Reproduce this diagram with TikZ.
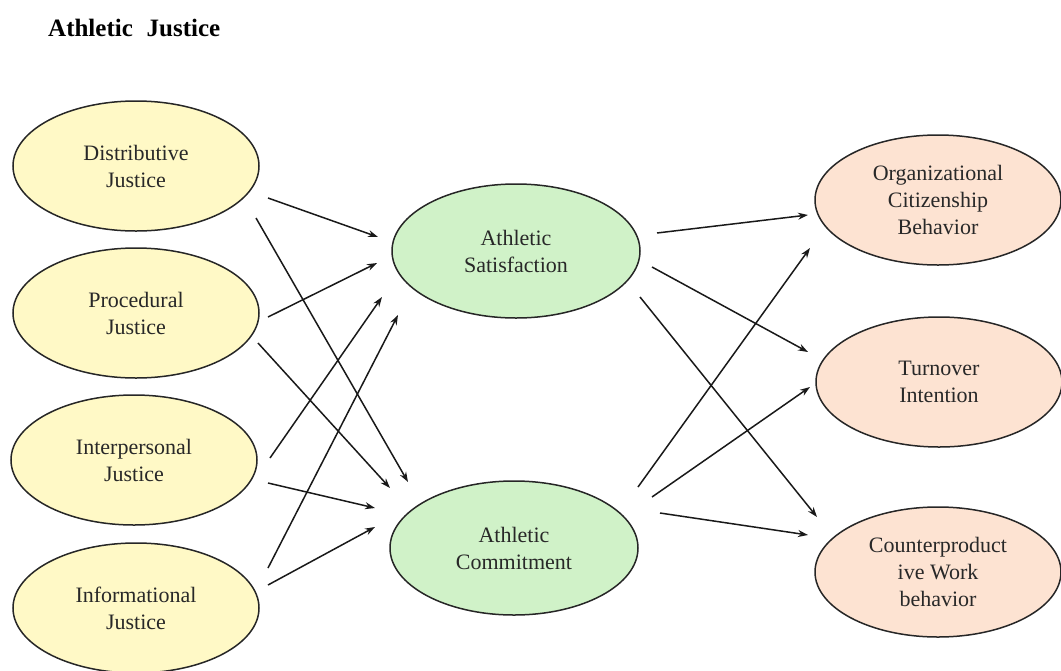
\documentclass[tikz,border=0pt]{standalone}
\usepackage{fontspec}
\setmainfont{Liberation Serif}
\usetikzlibrary{shapes.geometric,arrows.meta,calc}
\definecolor{yel}{RGB}{255,249,198}
\definecolor{grn}{RGB}{208,242,200}
\definecolor{pch}{RGB}{253,227,210}
\definecolor{txt}{RGB}{40,40,40}
\tikzset{
  oval/.style={ellipse,draw=black!85,line width=1.5pt,minimum width=246pt,minimum height=130pt,inner sep=0pt,align=center,text=txt,font=\fontsize{22}{27}\selectfont},
  yoval/.style={oval,fill=yel},
  goval/.style={oval,fill=grn,minimum width=248pt,minimum height=134pt},
  poval/.style={oval,fill=pch},
  arr/.style={-{Stealth[length=10pt,width=7pt]},line width=1.5pt,black!90}
}
\begin{document}
\begin{tikzpicture}[x=1pt,y=-1pt]
\useasboundingbox (0,0) rectangle (1061,670);
\node[anchor=west,inner sep=0pt,font=\bfseries\fontsize{25}{29}\selectfont] (title) at (48,28) {Athletic\hspace{0.3em} Justice};
\node[yoval] (dist) at (136,166) {Distributive\\Justice};
\node[yoval] (proc) at (136,313) {Procedural\\Justice};
\node[yoval] (inter) at (134,460) {Interpersonal\\Justice};
\node[yoval] (info) at (136,608) {Informational\\Justice};
\node[goval] (sat) at (516,251) {Athletic\\Satisfaction};
\node[goval] (com) at (514,548) {Athletic\\Commitment};
\node[poval] (ocb) at (938,200) {Organizational\\Citizenship\\Behavior};
\node[poval] (turn) at (939,382) {Turnover\\Intention};
\node[poval] (cwb) at (938,572) {Counterproduct\\ive Work\\behavior};
\draw[arr] ($(dist)+(132,32)$) -- ($(sat)+(-138,-14)$);
\draw[arr] ($(dist)+(120,52)$) -- ($(com)+(-106,-66)$);
\draw[arr] ($(proc)+(132,4)$) -- ($(sat)+(-139,12)$);
\draw[arr] ($(proc)+(122,30)$) -- ($(com)+(-124,-60)$);
\draw[arr] ($(inter)+(136,-2)$) -- ($(sat)+(-134,46)$);
\draw[arr] ($(inter)+(134,23)$) -- ($(com)+(-139,-40)$);
\draw[arr] ($(info)+(132,-40)$) -- ($(sat)+(-118,64)$);
\draw[arr] ($(info)+(132,-23)$) -- ($(com)+(-139,-21)$);
\draw[arr] ($(sat)+(141,-18)$) -- ($(ocb)+(-130,15)$);
\draw[arr] ($(sat)+(136,16)$) -- ($(turn)+(-131,-30)$);
\draw[arr] ($(sat)+(124,46)$) -- ($(cwb)+(-121,-55)$);
\draw[arr] ($(com)+(124,-61)$) -- ($(ocb)+(-128,48)$);
\draw[arr] ($(com)+(138,-51)$) -- ($(turn)+(-129,5)$);
\draw[arr] ($(com)+(146,-35)$) -- ($(cwb)+(-130,-37)$);
\end{tikzpicture}
\end{document}
